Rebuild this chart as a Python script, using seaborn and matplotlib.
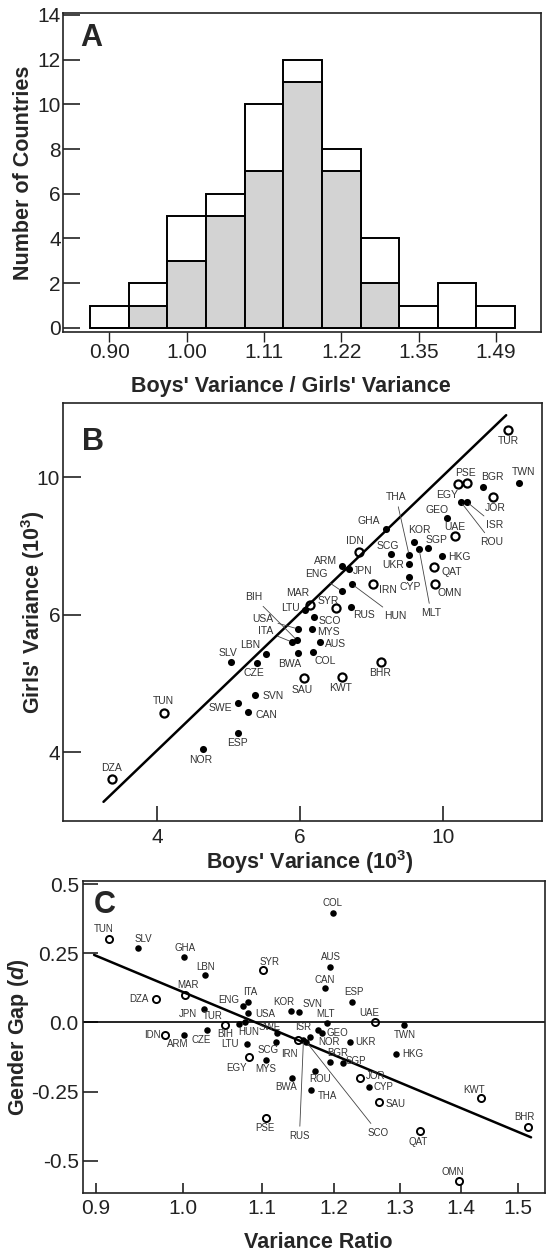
import matplotlib
matplotlib.use('Agg')
import matplotlib.pyplot as plt
import seaborn as sns
import pandas as pd
from matplotlib.ticker import NullLocator

# ---- Panel A: histogram of variance ratios (counts per bin)
bin_centers = ['0.90', '0.95', '1.00', '1.05', '1.11', '1.16', '1.22', '1.28', '1.35', '1.42', '1.49']
count_all = [1, 2, 5, 6, 10, 12, 8, 4, 1, 2, 1]
count_filled = [0, 1, 3, 5, 7, 11, 7, 2, 0, 0, 0]
a_tick_labels = ['0.90', '1.00', '1.11', '1.22', '1.35', '1.49']

# ---- Panel B / C: countries
countries = ['TUR', 'EGY', 'PSE', 'BGR', 'TWN', 'JOR', 'ISR', 'ROU', 'GEO', 'UAE',
             'KOR', 'SGP', 'MLT', 'THA', 'HKG', 'SCG', 'UKR', 'QAT', 'CYP', 'OMN',
             'IRN', 'GHA', 'IDN', 'ARM', 'JPN', 'ENG', 'HUN', 'MAR', 'SYR', 'LTU',
             'RUS', 'USA', 'ITA', 'BIH', 'SCO', 'MYS', 'AUS', 'LBN', 'BWA', 'COL',
             'SLV', 'CZE', 'BHR', 'SAU', 'KWT', 'SVN', 'SWE', 'CAN', 'TUN', 'ESP',
             'NOR', 'DZA']
boys_var = [12.32, 10.49, 10.80, 11.37, 12.76, 11.74, 10.80, 10.59, 10.13, 10.39,
            9.11, 9.53, 9.26, 8.97, 9.97, 8.47, 8.97, 9.72, 8.97, 9.75,
            7.99, 8.33, 7.64, 7.23, 7.40, 7.23, 7.47, 6.53, 7.10, 6.43,
            7.45, 6.28, 6.17, 6.26, 6.61, 6.57, 6.74, 5.67, 6.28, 6.59,
            5.07, 5.51, 8.20, 6.41, 7.23, 5.48, 5.18, 5.35, 4.09, 5.18,
            4.63, 3.46]
girls_var = [11.69, 9.77, 9.80, 9.67, 9.80, 9.35, 9.20, 9.20, 8.72, 8.22,
             8.05, 7.89, 7.87, 7.71, 7.69, 7.74, 7.48, 7.41, 7.17, 7.00,
             7.00, 8.41, 7.79, 7.43, 7.36, 6.84, 7.00, 6.53, 6.46, 6.42,
             6.48, 6.03, 5.77, 5.81, 6.27, 6.03, 5.77, 5.54, 5.56, 5.58,
             5.40, 5.38, 5.40, 5.12, 5.13, 4.84, 4.71, 4.57, 4.55, 4.27,
             4.04, 3.66]
var_ratio = [1.052, 1.083, 1.106, 1.195, 1.306, 1.239, 1.178, 1.174, 1.183, 1.261,
             1.140, 1.214, 1.190, 1.167, 1.294, 1.119, 1.224, 1.332, 1.252, 1.397,
             1.150, 1.001, 0.978, 1.001, 1.026, 1.076, 1.078, 1.003, 1.102, 1.080,
             1.157, 1.082, 1.082, 1.070, 1.161, 1.106, 1.195, 1.027, 1.141, 1.199,
             0.947, 1.029, 1.518, 1.268, 1.434, 1.151, 1.120, 1.187, 0.914, 1.227,
             1.166, 0.968]
gender_gap = [-0.009, -0.124, -0.346, -0.142, -0.009, -0.202, -0.027, -0.175, -0.037, 0.003,
              0.043, -0.147, -0.001, -0.244, -0.114, -0.069, -0.069, -0.392, -0.232, -0.571,
              -0.063, 0.236, -0.045, -0.045, 0.049, 0.060, 0.002, 0.099, 0.190, -0.078,
              -0.063, 0.035, 0.075, -0.005, -0.070, -0.135, 0.199, 0.172, -0.202, 0.397,
              0.268, -0.027, -0.379, -0.286, -0.274, 0.039, -0.037, 0.126, 0.302, 0.073,
              -0.053, 0.085]
open_countries = ['TUR', 'EGY', 'PSE', 'JOR', 'UAE', 'QAT', 'OMN', 'IRN', 'IDN', 'MAR',
                  'SYR', 'BHR', 'SAU', 'KWT', 'TUN', 'DZA']

# fitted lines (end points)
fit_b_x = [3.37, 12.24]
fit_b_y = [3.39, 12.29]
fit_c_x = [0.898, 1.524]
fit_c_y = [0.244, -0.415]

b_ticks = [4, 6.32, 10]
b_tick_labels = ['4', '6', '10']
c_xticks = [0.9, 1.0, 1.1, 1.2, 1.3, 1.4, 1.5]
c_yticks = [-0.5, -0.25, 0.0, 0.25, 0.5]
c_ytick_labels = ['-0.5', '-0.25', '0.0', '0.25', '0.5']

df = pd.DataFrame({'code': countries, 'boys': boys_var, 'girls': girls_var,
                   'ratio': var_ratio, 'gap': gender_gap})
df['open'] = df['code'].isin(open_countries)

# label offsets in pixels (dx, dy) relative to the marker
offsets_b = {'TUR': (0, -11), 'PSE': (-2, 10), 'EGY': (-11, -11), 'BGR': (9, 10),
             'TWN': (4, 11), 'JOR': (2, -11), 'ISR': (28, -23), 'ROU': (31, -40),
             'GEO': (-10, 8), 'UAE': (0, 9), 'KOR': (5, 12), 'SGP': (8, 8),
             'THA': (-13, 58), 'MLT': (12, -64), 'HKG': (17, -1), 'SCG': (-3, 8),
             'UKR': (-16, -1), 'QAT': (18, -5), 'CYP': (1, -10), 'OMN': (15, -9),
             'IRN': (15, -6), 'GHA': (-17, 8), 'IDN': (-4, 11), 'ARM': (-16, 5),
             'JPN': (14, -2), 'ENG': (-25, 17), 'HUN': (43, -32), 'MAR': (-12, 12),
             'SYR': (-8, 7), 'LTU': (-15, 2), 'RUS': (13, -8), 'USA': (-35, 10),
             'ITA': (-27, 11), 'BIH': (-43, 43), 'SCO': (16, -4), 'MYS': (17, -3),
             'AUS': (16, -2), 'LBN': (-16, 9), 'BWA': (-8, -11), 'COL': (12, -9),
             'SLV': (-3, 9), 'CZE': (-3, -10), 'BHR': (-1, -11), 'SAU': (-2, -12),
             'KWT': (-1, -11), 'SVN': (18, -1), 'SWE': (-17, -5), 'CAN': (19, -3),
             'TUN': (-1, 12), 'ESP': (0, -10), 'NOR': (-2, -11), 'DZA': (0, 11)}
leaders_b = ['ISR', 'ROU', 'THA', 'MLT', 'HUN', 'ENG', 'BIH', 'USA', 'ITA']

offsets_c = {'COL': (0, 10), 'TUN': (-5, 10), 'SLV': (5, 9), 'GHA': (1, 9),
             'LBN': (1, 8), 'SYR': (6, 8), 'AUS': (1, 10), 'CAN': (0, 8),
             'MAR': (3, 10), 'DZA': (-17, 0), 'ESP': (2, 10), 'ENG': (-15, 6),
             'ITA': (2, 10), 'KOR': (-7, 9), 'SVN': (13, 8), 'JPN': (-16, -5),
             'USA': (17, -1), 'TUR': (-12, 9), 'BIH': (-14, -10), 'HUN': (4, -10),
             'IDN': (-12, 0), 'ARM': (-6, -9), 'CZE': (-5, -10), 'UAE': (-5, 9),
             'TWN': (1, -10), 'MLT': (-1, 9), 'UKR': (16, 0), 'LTU': (-17, 0),
             'SCG': (-8, -8), 'SWE': (-7, 6), 'ISR': (-15, 3), 'GEO': (16, 0),
             'IRN': (-9, -14), 'NOR': (19, -5), 'RUS': (-4, -96), 'SCO': (72, -91),
             'BGR': (8, 9), 'SGP': (13, 2), 'HKG': (17, 0), 'ROU': (5, -8),
             'JOR': (16, 2), 'CYP': (15, 0), 'THA': (17, -6), 'BWA': (-6, -9),
             'MYS': (0, -9), 'EGY': (-12, -11), 'SAU': (16, -2), 'PSE': (-1, -10),
             'QAT': (-2, -11), 'KWT': (-7, 8), 'BHR': (-3, 10), 'OMN': (-6, 9)}
leaders_c = ['RUS', 'SCO']

sns.set_theme(style='white')
plt.rcParams['font.family'] = ['Liberation Sans', 'DejaVu Sans']
plt.rcParams['mathtext.fontset'] = 'custom'
plt.rcParams['mathtext.rm'] = 'Liberation Sans:bold'
plt.rcParams['mathtext.it'] = 'Liberation Sans:bold:italic'
plt.rcParams['mathtext.default'] = 'rm'
plt.rcParams['axes.edgecolor'] = '#222222'
plt.rcParams['axes.linewidth'] = 1.2

fig = plt.figure(figsize=(5.46, 12.55), dpi=100)
ax_a = fig.add_axes([0.1154, 0.7355, 0.8755, 0.2542])
ax_b = fig.add_axes([0.1154, 0.3458, 0.8773, 0.3331])
ax_c = fig.add_axes([0.1520, 0.0492, 0.8462, 0.2488])

text_col = '#333333'
label_size = 15.5
tick_size = 15


def label_points(ax, data, xcol, ycol, offsets, leaders, size):
    for _, r in data.iterrows():
        dx, dy = offsets.get(r['code'], (0, -10))
        kw = {}
        if r['code'] in leaders:
            kw['arrowprops'] = dict(arrowstyle='-', color='#444444', lw=0.6,
                                    shrinkA=1, shrinkB=2)
        ax.annotate(r['code'], (r[xcol], r[ycol]), xytext=(dx, dy),
                    textcoords='offset pixels', ha='center', va='center',
                    fontsize=size, color=text_col, **kw)


def place_labels(ax, xpos, ypos):
    ax.xaxis.set_label_coords(*xpos)
    ax.yaxis.set_label_coords(*ypos)
    ax.xaxis.label.set_va('center')
    ax.yaxis.label.set_va('center')


# ---------------- Panel A
sns.barplot(x=bin_centers, y=count_all, order=bin_centers, color='white',
            edgecolor='black', linewidth=1.4, width=1.0, saturation=1,
            errorbar=None, ax=ax_a)
sns.barplot(x=bin_centers, y=count_filled, order=bin_centers, color='#d3d3d3',
            edgecolor='black', linewidth=1.4, width=1.0, saturation=1,
            errorbar=None, ax=ax_a)
ax_a.set_xlim(-1.2, 11.17)
ax_a.set_ylim(-0.18, 14.09)
ax_a.set_yticks(range(0, 15, 2))
ax_a.set_xticks(range(0, 11, 2))
ax_a.set_xticklabels(a_tick_labels)
ax_a.tick_params(axis='y', left=True, direction='in', length=12, width=1.2,
                 pad=1.5, labelsize=tick_size, colors='#222222')
ax_a.tick_params(axis='x', bottom=True, direction='out', length=7, width=1.0,
                 pad=1, labelsize=tick_size, colors='#222222')
ax_a.set_xlabel("Boys' Variance / Girls' Variance", fontsize=label_size, fontweight='bold')
ax_a.set_ylabel('Number of Countries', fontsize=label_size, fontweight='bold')
place_labels(ax_a, (0.477, -0.172), (-0.082, 0.5))
ax_a.text(0.059, 0.922, 'A', transform=ax_a.transAxes, fontsize=22,
          fontweight='bold', ha='center', va='center')

# ---------------- Panel B
ax_b.set_xscale('log')
ax_b.set_yscale('log')
sns.lineplot(x=fit_b_x, y=fit_b_y, color='black', lw=1.8, ax=ax_b)
sns.scatterplot(data=df[~df['open']], x='boys', y='girls', color='black',
                s=26, linewidth=0, ax=ax_b)
sns.scatterplot(data=df[df['open']], x='boys', y='girls', color='white',
                edgecolor='black', s=34, linewidth=1.6, ax=ax_b)
label_points(ax_b, df, 'boys', 'girls', offsets_b, leaders_b, 7.5)
ax_b.set_xlim(2.96, 13.73)
ax_b.set_ylim(3.18, 12.8)
for axis in (ax_b.xaxis, ax_b.yaxis):
    axis.set_minor_locator(NullLocator())
ax_b.set_xticks(b_ticks)
ax_b.set_xticklabels(b_tick_labels)
ax_b.set_yticks(b_ticks)
ax_b.set_yticklabels(b_tick_labels)
ax_b.tick_params(axis='x', bottom=True, direction='in', length=11, width=1.2,
                 pad=5, labelsize=tick_size, colors='#222222')
ax_b.tick_params(axis='y', left=True, direction='in', length=13, width=1.2,
                 pad=2, labelsize=tick_size, colors='#222222')
ax_b.set_xlabel("Boys' Variance (10$^{3}$)", fontsize=label_size, fontweight='bold')
ax_b.set_ylabel("Girls' Variance (10$^{3}$)", fontsize=label_size, fontweight='bold')
place_labels(ax_b, (0.516, -0.098), (-0.063, 0.5))
ax_b.text(0.063, 0.907, 'B', transform=ax_b.transAxes, fontsize=22,
          fontweight='bold', ha='center', va='center')

# ---------------- Panel C
ax_c.set_xscale('log')
ax_c.axhline(0, color='black', lw=1.2)
sns.lineplot(x=fit_c_x, y=fit_c_y, color='black', lw=1.8, ax=ax_c)
sns.scatterplot(data=df[~df['open']], x='ratio', y='gap', color='black',
                s=22, linewidth=0, ax=ax_c)
sns.scatterplot(data=df[df['open']], x='ratio', y='gap', color='white',
                edgecolor='black', s=26, linewidth=1.4, ax=ax_c)
label_points(ax_c, df, 'ratio', 'gap', offsets_c, leaders_c, 7)
ax_c.set_xlim(0.886, 1.55)
ax_c.set_ylim(-0.617, 0.511)
ax_c.xaxis.set_minor_locator(NullLocator())
ax_c.set_xticks(c_xticks)
ax_c.set_xticklabels([f'{v:.1f}' for v in c_xticks])
ax_c.set_yticks(c_yticks)
ax_c.set_yticklabels(c_ytick_labels)
ax_c.tick_params(axis='x', bottom=True, direction='in', length=7, width=1.2,
                 pad=4, labelsize=tick_size, colors='#222222')
ax_c.tick_params(axis='y', left=True, direction='in', length=11, width=1.2,
                 pad=3, labelsize=tick_size, colors='#222222')
ax_c.set_xlabel('Variance Ratio', fontsize=label_size, fontweight='bold')
ax_c.set_ylabel('Gender Gap ($\\mathit{d}$)', fontsize=label_size, fontweight='bold')
place_labels(ax_c, (0.509, -0.159), (-0.14, 0.5))
ax_c.text(0.047, 0.923, 'C', transform=ax_c.transAxes, fontsize=22,
          fontweight='bold', ha='center', va='center')

for ax in (ax_a, ax_b, ax_c):
    for sp in ax.spines.values():
        sp.set_visible(True)
        sp.set_linewidth(1.2)
        sp.set_color('#222222')

fig.savefig('out.png', dpi=100)
